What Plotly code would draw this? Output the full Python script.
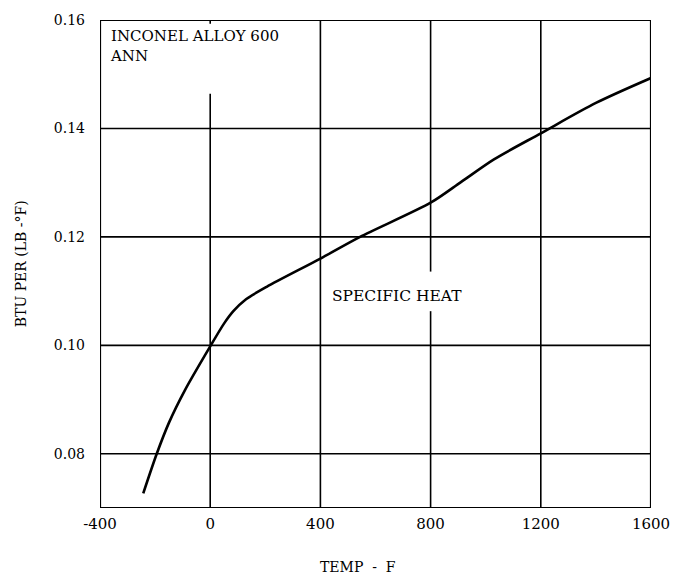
import plotly.graph_objects as go

# Data (temperature in F, specific heat in BTU per lb-F)
temp_f = [-243, -194, -150, -92, 0, 50, 84, 130, 205, 400, 544, 800, 910, 1030, 1200, 1400, 1600]
specific_heat = [0.0727, 0.0800, 0.0857, 0.0917, 0.0998, 0.1040, 0.1063, 0.1085, 0.1108, 0.1160,
                 0.1200, 0.1263, 0.1301, 0.1343, 0.1391, 0.1447, 0.1493]

x_ticks = [-400, 0, 400, 800, 1200, 1600]
x_tick_text = ["-400", "0", "400", "800", "1200", "1600"]
y_ticks = [0.08, 0.10, 0.12, 0.14, 0.16]
y_tick_text = ["0.08", "0.10", "0.12", "0.14", "0.16"]

X_MIN, X_MAX = -400, 1600
Y_MIN, Y_MAX = 0.07, 0.16

FONT = "DejaVu Serif"

fig = go.Figure()
fig.add_trace(go.Scatter(
    x=temp_f, y=specific_heat, mode="lines",
    line=dict(color="black", width=2.6, shape="spline", smoothing=0.8),
    hoverinfo="skip", showlegend=False,
))

grid = dict(color="black", width=1.6)
shapes = []
# horizontal grid lines
for yv in y_ticks[:-1]:
    shapes.append(dict(type="line", xref="x", yref="y", x0=X_MIN, x1=X_MAX, y0=yv, y1=yv, line=grid))
# vertical grid lines
shapes.append(dict(type="line", xref="x", yref="y", x0=0, x1=0, y0=Y_MIN, y1=0.1464, line=grid))
shapes.append(dict(type="line", xref="x", yref="y", x0=0, x1=0, y0=0.1593, y1=Y_MAX, line=grid))
shapes.append(dict(type="line", xref="x", yref="y", x0=400, x1=400, y0=Y_MIN, y1=Y_MAX, line=grid))
shapes.append(dict(type="line", xref="x", yref="y", x0=800, x1=800, y0=Y_MIN, y1=0.1063, line=grid))
shapes.append(dict(type="line", xref="x", yref="y", x0=800, x1=800, y0=0.1136, y1=Y_MAX, line=grid))
shapes.append(dict(type="line", xref="x", yref="y", x0=1200, x1=1200, y0=Y_MIN, y1=Y_MAX, line=grid))
# frame
shapes.append(dict(type="rect", xref="x", yref="y", x0=X_MIN, x1=X_MAX, y0=Y_MIN, y1=Y_MAX,
                   line=dict(color="black", width=2.2)))

fig.update_layout(
    width=687, height=581,
    margin=dict(l=100, r=36, t=13, b=73),
    paper_bgcolor="white", plot_bgcolor="white",
    font=dict(family=FONT, color="black", size=13),
    shapes=shapes,
    xaxis=dict(range=[X_MIN, X_MAX], tickvals=x_ticks, ticktext=x_tick_text,
               showgrid=False, zeroline=False, showline=False, ticks="",
               ticklabelstandoff=5, tickfont=dict(family=FONT, size=15)),
    yaxis=dict(range=[Y_MIN, Y_MAX], tickvals=y_ticks, ticktext=y_tick_text,
               showgrid=False, zeroline=False, showline=False, ticks="",
               ticklabelstandoff=14, tickfont=dict(family=FONT, size=14)),
    annotations=[
        dict(text="INCONEL ALLOY 600<br>ANN", xref="paper", yref="paper", x=0.015, y=0.99,
             xanchor="left", yanchor="top", align="left", showarrow=False,
             font=dict(family=FONT, size=15)),
        dict(text="SPECIFIC HEAT", xref="x", yref="y", x=678, y=0.1091,
             xanchor="center", yanchor="middle", showarrow=False,
             font=dict(family=FONT, size=15.5)),
        dict(text="TEMP  -  F", xref="paper", yref="paper", x=0.468, y=-0.121,
             xanchor="center", yanchor="middle", showarrow=False,
             font=dict(family=FONT, size=14)),
        dict(text="BTU PER (LB -°F)", xref="paper", yref="paper", x=-0.143, y=0.50,
             xanchor="center", yanchor="middle", showarrow=False, textangle=-90,
             font=dict(family=FONT, size=14)),
    ],
)

fig.write_html("out.html")
